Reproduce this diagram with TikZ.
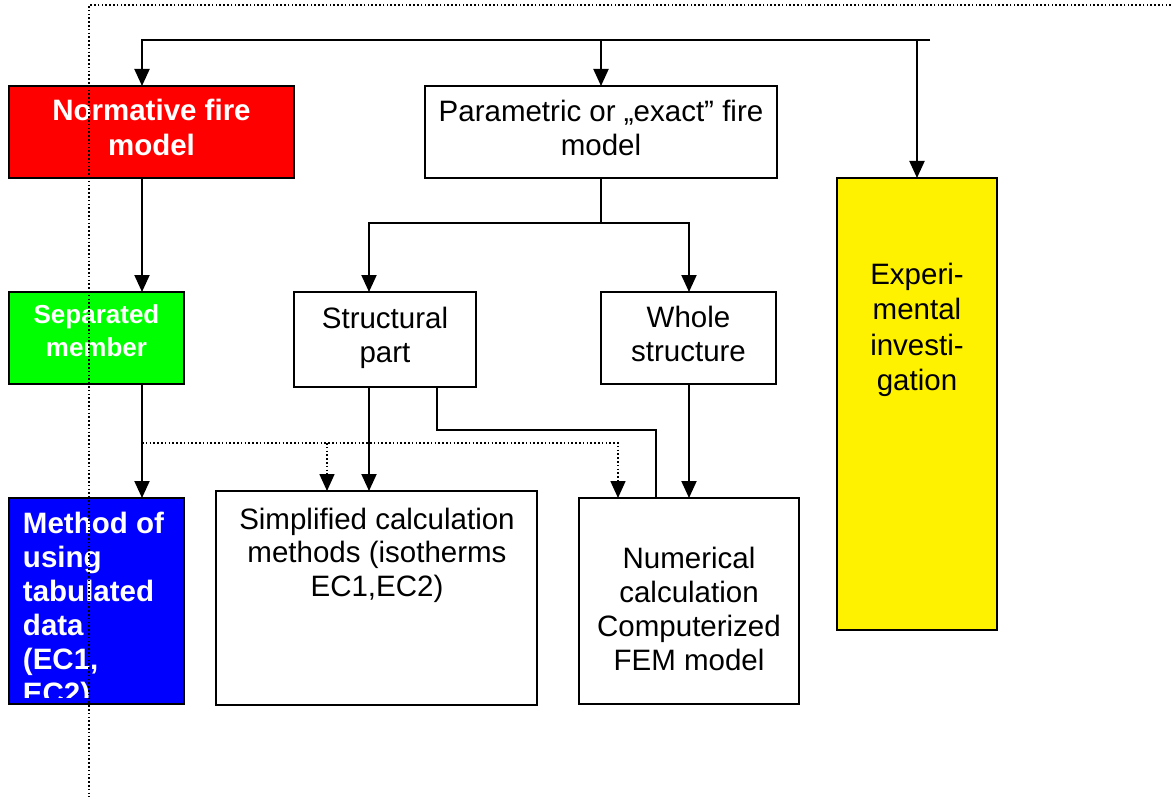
\documentclass[tikz,border=0pt]{standalone}
\usepackage{fontspec}
\setmainfont{Liberation Sans}
\usetikzlibrary{arrows.meta}
\begin{document}
\begin{tikzpicture}[x=1pt,y=-1pt,
  box/.style={draw=black,line width=2pt,anchor=north west,inner sep=0pt,outer sep=0pt},
  con/.style={line width=2pt},
  arr/.style={con,-{Triangle[width=15pt,length=17pt]}},
  dotline/.style={line width=1.6pt,dash pattern=on 1.6pt off 2.2pt},
  darr/.style={dotline,-{Triangle[width=15pt,length=17pt]}},
  txt/.style={inner sep=0pt,outer sep=0pt,anchor=north,align=center}]
\useasboundingbox (0,0) rectangle (1171,797);

% boxes
\node[box,fill=red,minimum width=285pt,minimum height=92pt] (red) at (9,86) {};
\node[box,fill=white,minimum width=352pt,minimum height=92pt] (par) at (425,86) {};
\node[box,fill=yellow,minimum width=160pt,minimum height=452pt] (yel) at (837,178) {};
\node[box,fill=green,minimum width=175pt,minimum height=92pt] (grn) at (9,292) {};
\node[box,fill=white,minimum width=182pt,minimum height=95pt] (str) at (294,292) {};
\node[box,fill=white,minimum width=175pt,minimum height=92pt] (who) at (601,292) {};
\node[box,fill=blue,minimum width=175pt,minimum height=206pt] (blu) at (9,498) {};
\node[box,fill=white,minimum width=321pt,minimum height=214pt] (sim) at (216,491) {};
\node[box,fill=white,minimum width=220pt,minimum height=206pt] (num) at (579,498) {};

% texts
\node[txt,text=white,font=\fontsize{29.5}{35}\selectfont\bfseries] (redt) at (151.5,99) {\rule{0pt}{22pt}Normative fire\\model};
\node[txt,font=\fontsize{29.5}{34}\selectfont] (part) at (601,100) {\rule{0pt}{22pt}Parametric or „exact” fire\\model};
\node[txt,font=\fontsize{29.5}{35.5}\selectfont] (yelt) at (917,262) {\rule{0pt}{22pt}Experi-\\mental\\investi-\\gation};
\node[txt,text=white,font=\fontsize{26}{33}\selectfont\bfseries] (grnt) at (96.5,301) {\rule{0pt}{22pt}Separated\\member};
\node[txt,font=\fontsize{29.5}{34}\selectfont] (strt) at (385,306) {\rule{0pt}{22pt}Structural\\part};
\node[txt,font=\fontsize{29.5}{34}\selectfont] (whot) at (688.5,305) {\rule{0pt}{22pt}Whole\\structure};
\node[txt,font=\fontsize{29.5}{33.5}\selectfont] (simt) at (377,507) {\rule{0pt}{22pt}Simplified calculation\\methods (isotherms\\EC1,EC2)};
\node[txt,font=\fontsize{29.5}{34}\selectfont] (numt) at (689,546) {\rule{0pt}{22pt}Numerical\\calculation\\Computerized\\FEM model};
\begin{scope}
\clip (blu.north west) rectangle ([yshift=7pt]blu.south east);
\node[inner sep=0pt,outer sep=0pt,anchor=north west,align=left,text=white,font=\fontsize{29.5}{34}\selectfont\bfseries] (blut) at (23,511) {\rule{0pt}{22pt}Method of\\using\\tabulated\\data\\(EC1,\\EC2)};
\end{scope}

% connectors
\coordinate (t1) at (142,40);
\coordinate (t2) at (601,40);
\coordinate (t3) at (917,40);
\coordinate (t4) at (930,40);
\draw[arr] (t4) -- (t1) -- (t1 |- red.north);
\draw[arr] (t2) -- (t2 |- par.north);
\draw[arr] (t3) -- (t3 |- yel.north);

\coordinate (b0) at (601,223);
\coordinate (b1) at (369,223);
\coordinate (b2) at (689,223);
\draw[con] (par.south) -- (b0);
\draw[arr] (b0) -- (b1) -- (b1 |- str.north);
\draw[arr] (b0) -- (b2) -- (b2 |- who.north);

\draw[arr] (t1 |- red.south) -- (t1 |- grn.north);
\draw[arr] (t1 |- grn.south) -- (t1 |- blu.north);
\draw[arr] (b1 |- str.south) -- (b1 |- sim.north);

\coordinate (s1) at (437,430);
\coordinate (s2) at (656,430);
\draw[con] (s1 |- str.south) -- (s1) -- (s2) -- (s2 |- num.north);
\draw[arr] (b2 |- who.south) -- (b2 |- num.north);

\coordinate (d0) at (142,443);
\coordinate (d1) at (327,443);
\coordinate (d2) at (618,443);
\draw[darr] (d0) -- (d2) -- (d2 |- num.north);
\draw[darr] (d1) -- (d1 |- sim.north);

% dotted frame
\coordinate (f0) at (89,5);
\coordinate (f1) at (1171,5);
\coordinate (f2) at (89,797);
\draw[dotline] (f1) -- (f0) -- (f2);
\end{tikzpicture}
\end{document}
